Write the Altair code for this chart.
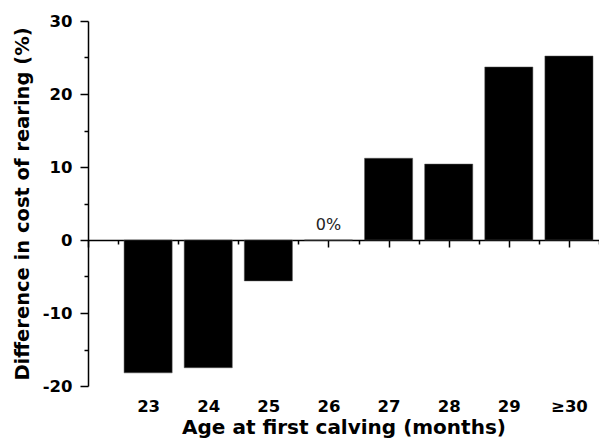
import altair as alt
import pandas as pd

ages = [23, 24, 25, 26, 27, 28, 29, 30]
age_labels = ["23", "24", "25", "26", "27", "28", "29", "≥30"]
diff_pct = [-18.2, -17.5, -5.6, 0.0, 11.2, 10.4, 23.7, 25.2]
note_text = ["", "", "", "0%", "", "", "", ""]

df = pd.DataFrame({"age": ages, "label": age_labels, "diff": diff_pct, "note": note_text})

FONT = "DejaVu Sans"

x_major = [22 + i for i in range(9)]
x_minor = [22.5 + i for i in range(9)]
y_major = [-20 + 10 * i for i in range(6)]
y_minor = [-15 + 10 * i for i in range(5)]

x_scale = alt.Scale(domain=[22, 30.5], nice=False, zero=False)
y_scale = alt.Scale(domain=[-20, 30], nice=False)

common = dict(tickColor="black", tickWidth=1.5, domainColor="black", domainWidth=1.5, grid=False)

x_axis_major = alt.Axis(
    title="Age at first calving (months)",
    orient="bottom",
    offset=-146,
    values=x_major,
    labelExpr="datum.value == 22 ? '' : (datum.value == 30 ? '≥30' : toString(datum.value))",
    tickSize=7,
    labelFont=FONT,
    labelFontSize=16.5,
    labelFontWeight="bold",
    labelColor="black",
    labelPadding=151,
    labelFlush=False,
    labelOverlap=False,
    titleFont=FONT,
    titleFontSize=20,
    titleFontWeight="bold",
    titleColor="black",
    titlePadding=3,
    **common,
)

x_axis_minor = alt.Axis(
    title=None,
    orient="bottom",
    offset=-146,
    values=x_minor,
    labels=False,
    domain=False,
    tickSize=4,
    tickColor="black",
    tickWidth=1.5,
    grid=False,
)

y_axis_major = alt.Axis(
    title="Difference in cost of rearing (%)",
    orient="left",
    values=y_major,
    labelExpr="toString(datum.value)",
    tickSize=8,
    labelFont=FONT,
    labelFontSize=16.5,
    labelFontWeight="bold",
    labelColor="black",
    labelPadding=8,
    labelFlush=False,
    labelOverlap=False,
    titleFont=FONT,
    titleFontSize=19.5,
    titleFontWeight="bold",
    titleColor="black",
    titlePadding=10,
    **common,
)

y_axis_minor = alt.Axis(
    title=None,
    orient="left",
    values=y_minor,
    labels=False,
    domain=False,
    tickSize=4,
    tickColor="black",
    tickWidth=1.5,
    grid=False,
)

base = alt.Chart(df)

bars = base.transform_calculate(
    x0="datum.age - 0.4", x1="datum.age + 0.4"
).mark_bar(color="black", stroke="#555555", strokeWidth=0.5).encode(
    x=alt.X("x0:Q", scale=x_scale, axis=x_axis_major),
    x2="x1:Q",
    y=alt.Y("diff:Q", scale=y_scale, axis=y_axis_major),
    y2=alt.datum(0),
)

notes = base.mark_text(font=FONT, fontSize=16, color="#222222", dy=-15).encode(
    x=alt.X("age:Q", scale=x_scale, axis=x_axis_minor),
    y=alt.Y("diff:Q", scale=y_scale, axis=y_axis_minor),
    text="note:N",
)

chart = alt.layer(bars, notes).resolve_axis(x="independent", y="independent").properties(
    width=511,
    height=365,
    background="white",
    autosize=alt.AutoSizeParams(type="none"),
    padding={"left": 80, "top": 13, "right": 0, "bottom": 60},
).configure_view(strokeWidth=0, stroke="transparent")

chart.save("out.html", embed_options={"renderer": "svg", "actions": False})
